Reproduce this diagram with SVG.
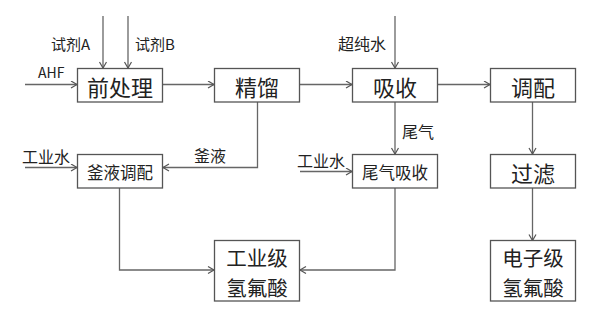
<svg xmlns="http://www.w3.org/2000/svg" width="603" height="311" viewBox="0 0 603 311">
<defs>
<marker id="arr" markerWidth="10" markerHeight="10" refX="7" refY="4" orient="auto" markerUnits="userSpaceOnUse">
<path d="M1,0.5 L7,4 L1,7.5" fill="none" stroke="#555" stroke-width="1.2"/>
</marker>
<style>
.box{fill:#fff;stroke:#555;stroke-width:1.3}
.ln{fill:none;stroke:#666;stroke-width:1.3;marker-end:url(#arr)}
text{font-family:"Noto Sans CJK SC","Noto Sans",sans-serif;fill:#222;dominant-baseline:central}
.big{font-size:22px;text-anchor:middle}
.two{font-size:20.5px;text-anchor:middle}
.mid{font-size:16.5px;text-anchor:middle}
.lbl{font-size:16px}
.sm{font-size:15px}
</style>
</defs>
<rect width="603" height="311" fill="#fff"/>
<g id="connectors">
<path class="ln" d="M103,16 V68"/>
<path class="ln" d="M128,16 V68"/>
<path class="ln" d="M25,84.5 H77"/>
<path class="ln" d="M163,84.5 H214"/>
<path class="ln" d="M299.5,84.5 H352"/>
<path class="ln" d="M438,84.5 H490"/>
<path class="ln" d="M395,16 V68"/>
<path class="ln" d="M257.5,102 V167.5 H163"/>
<path class="ln" d="M25,167.5 H77"/>
<path class="ln" d="M395,102 V154"/>
<path class="ln" d="M300,171.5 H352"/>
<path class="ln" d="M532.5,102 V154"/>
<path class="ln" d="M532.5,188 V240.5"/>
<path class="ln" d="M119.5,188 V270 H214"/>
<path class="ln" d="M395,188 V270 H300"/>
<text class="sm" x="51" y="43">试剂A</text>
<text class="sm" x="135" y="43">试剂B</text>
<text class="sm" x="38" y="72" style="font-size:14px">AHF</text>
<text class="lbl" x="338" y="43">超纯水</text>
<text class="lbl" x="402" y="131">尾气</text>
<text class="lbl" x="194" y="155">釜液</text>
<text class="lbl" x="22" y="155.5">工业水</text>
<text class="lbl" x="297" y="159.5">工业水</text>
</g>
<g id="pretreat"><rect class="box" x="77.5" y="68.5" width="85" height="33.5"/><text class="big" x="120" y="85.5">前处理</text></g>
<g id="distill"><rect class="box" x="214.5" y="68.5" width="85" height="33.5"/><text class="big" x="257" y="85.5">精馏</text></g>
<g id="absorb"><rect class="box" x="352.5" y="68.5" width="85" height="33.5"/><text class="big" x="395" y="85.5">吸收</text></g>
<g id="blend"><rect class="box" x="490.5" y="68.5" width="85" height="33.5"/><text class="big" x="533" y="85.5">调配</text></g>
<g id="kettle"><rect class="box" x="77.5" y="154.5" width="85" height="33.5"/><text class="mid" x="120" y="171.5">釜液调配</text></g>
<g id="tailgas"><rect class="box" x="352.5" y="154.5" width="85" height="33.5"/><text class="mid" x="395" y="171.5">尾气吸收</text></g>
<g id="filter"><rect class="box" x="490.5" y="154.5" width="85" height="33.5"/><text class="big" x="533" y="171.5">过滤</text></g>
<g id="industrial"><rect class="box" x="214.5" y="240.5" width="85" height="60.5"/><text class="two" x="257" y="257">工业级</text><text class="two" x="257" y="287">氢氟酸</text></g>
<g id="electronic"><rect class="box" x="490.5" y="240.5" width="85" height="60.5"/><text class="two" x="533" y="257">电子级</text><text class="two" x="533" y="287">氢氟酸</text></g>
</svg>
